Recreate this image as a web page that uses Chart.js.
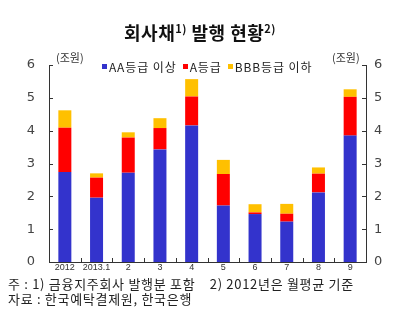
<!DOCTYPE html>
<html>
<head>
<meta charset="utf-8">
<script src="https://cdn.jsdelivr.net/npm/chart.js@4"></script>
<style>
  body { margin: 0; background: #fff; }
  #wrap { position: relative; width: 400px; height: 323px; font-family: "Noto Sans CJK KR", sans-serif; }
  #title { position: absolute; left: 0; top: 19px; width: 400px; text-align: center; font-size: 18px; font-weight: bold; color: #111; letter-spacing: 0.5px; }
  #title sup { font-size: 11px; vertical-align: 7px; line-height: 0; }
  #legend { position: absolute; left: 102px; top: 58px; font-size: 12px; color: #222; white-space: nowrap; letter-spacing: 0.9px; }
  #legend span.box { display: inline-block; width: 5px; height: 5px; margin-right: 2px; vertical-align: 3px; }
  #legend span.item { margin-right: 6px; }
  .unit { position: absolute; top: 49px; font-size: 11px; color: #333; }
  #notes { position: absolute; left: 8px; top: 276px; font-size: 13px; line-height: 15px; color: #222; white-space: pre; letter-spacing: 0.7px; }
  canvas { position: absolute; left: 0; top: 0; }
</style>
</head>
<body>
<div id="wrap">
  <canvas id="chart" width="400" height="323"></canvas>
  <div id="title">회사채<sup>1)</sup> 발행 현황<sup>2)</sup></div>
  <div id="legend"></div>
  <div class="unit" style="left:56px">(조원)</div>
  <div class="unit" style="left:332px">(조원)</div>
  <div id="notes">주 : 1) 금융지주회사 발행분 포함    2) 2012년은 월평균 기준
자료 : 한국예탁결제원, 한국은행</div>
</div>
<script>
// 카테고리 (월)
const labels = ["2012", "2013.1", "2", "3", "4", "5", "6", "7", "8", "9"];
// 등급별 발행액 (조원)
const aaAbove = [2.74, 1.96, 2.72, 3.43, 4.16, 1.72, 1.46, 1.23, 2.12, 3.85];
const aGrade  = [1.35, 0.61, 1.07, 0.65, 0.88, 0.96, 0.05, 0.24, 0.57, 1.18];
const bbbBelow = [0.53, 0.13, 0.16, 0.30, 0.53, 0.43, 0.25, 0.30, 0.19, 0.23];
const seriesNames = ["AA등급 이상", "A등급", "BBB등급 이하"];
const seriesColors = ["#3333CC", "#FF0000", "#FFC000"];
const yTicks = [0, 1, 2, 3, 4, 5, 6];

// 범례
document.getElementById("legend").innerHTML = seriesNames
  .map((n, i) => `<span class="item"><span class="box" style="background:${seriesColors[i]}"></span>${n}</span>`)
  .join("");

// 안쪽으로 향하는 눈금
const innerTicks = {
  id: "innerTicks",
  afterDraw(chart) {
    const c = chart.ctx;
    const x = chart.scales.x, yl = chart.scales.y;
    c.save();
    c.strokeStyle = "#333";
    c.lineWidth = 1;
    c.beginPath();
    yTicks.forEach(v => {
      const py = Math.round(yl.getPixelForValue(v)) + 0.5;
      c.moveTo(x.left, py); c.lineTo(x.left + 4, py);
      c.moveTo(x.right, py); c.lineTo(x.right - 4, py);
    });
    for (let i = 1; i < labels.length; i++) {
      const px = Math.round((x.getPixelForValue(i - 1) + x.getPixelForValue(i)) / 2) + 0.5;
      c.moveTo(px, x.top); c.lineTo(px, x.top - 4);
    }
    c.stroke();
    c.restore();
  }
};

const ctx = document.getElementById("chart").getContext("2d");
new Chart(ctx, {
  type: "bar",
  data: {
    labels: labels,
    datasets: [aaAbove, aGrade, bbbBelow].map((d, i) => ({
      label: seriesNames[i],
      data: d,
      backgroundColor: seriesColors[i],
      borderWidth: 0,
      barPercentage: 0.41,
      categoryPercentage: 1.0
    }))
  },
  options: {
    responsive: false,
    animation: false,
    layout: { padding: { top: 65, left: 0, right: 0, bottom: 0 } },
    plugins: { legend: { display: false }, tooltip: { enabled: false } },
    scales: {
      x: {
        stacked: true,
        grid: { display: false, drawTicks: false },
        border: { color: "#333" },
        ticks: { color: "#333", font: { size: 9, family: "Liberation Sans" }, padding: 0, maxRotation: 0, autoSkip: false },
        afterFit: s => { s.height = 61; }
      },
      y: {
        stacked: true,
        position: "left",
        min: 0, max: 6,
        afterBuildTicks: s => { s.ticks = yTicks.map(v => ({ value: v })); },
        grid: { display: false, drawTicks: false },
        border: { color: "#333" },
        ticks: { color: "#444", font: { size: 13, family: "DejaVu Sans" }, padding: 14 },
        afterFit: s => { s.width = 49; }
      },
      y2: {
        position: "right",
        min: 0, max: 6,
        afterBuildTicks: s => { s.ticks = yTicks.map(v => ({ value: v })); },
        grid: { display: false, drawTicks: false },
        border: { color: "#333" },
        ticks: { color: "#444", font: { size: 13, family: "DejaVu Sans" }, padding: 8 },
        afterFit: s => { s.width = 34; }
      }
    }
  },
  plugins: [innerTicks]
});
</script>
</body>
</html>
